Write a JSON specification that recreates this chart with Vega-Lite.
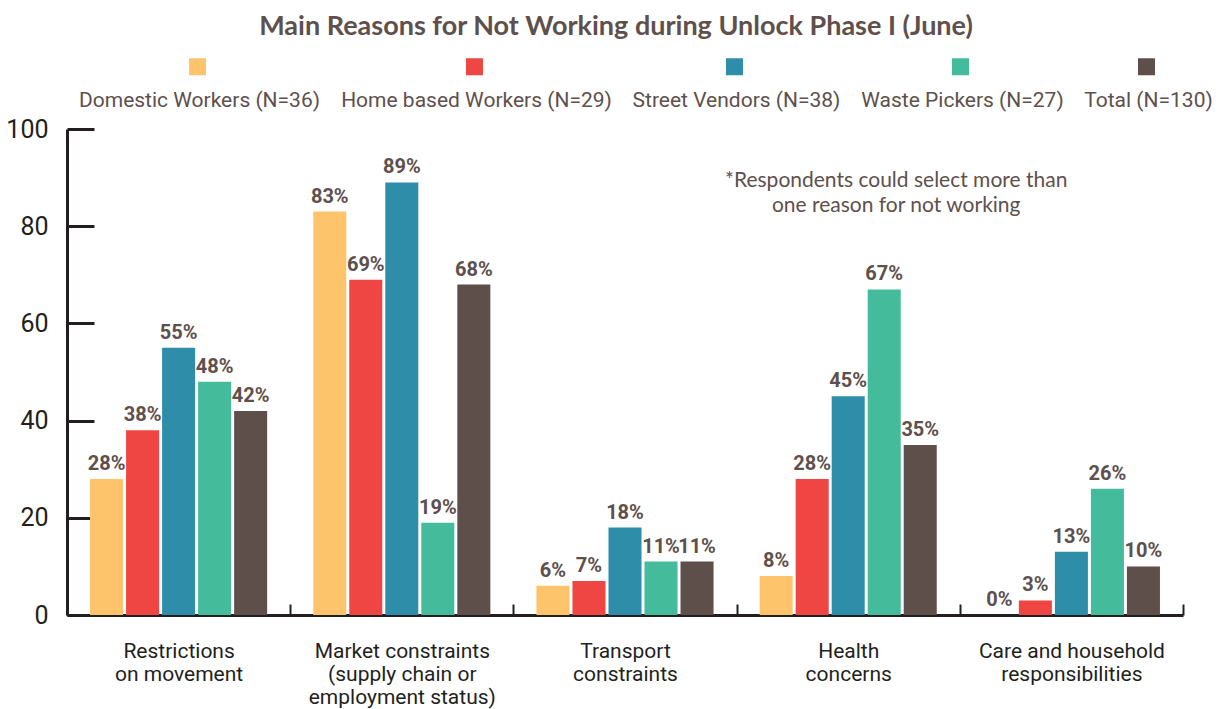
{
  "$schema": "https://vega.github.io/schema/vega-lite/v6.json",
  "width": 1116,
  "height": 486,
  "autosize": "none",
  "padding": {"left": 67, "top": 129, "right": 39, "bottom": 94},
  "background": "white",
  "title": {
    "text": "Main Reasons for Not Working during Unlock Phase I (June)",
    "font": "Lato",
    "fontSize": 27,
    "fontWeight": "bold",
    "color": "#5e504c",
    "anchor": "middle",
    "frame": "group",
    "dx": -9,
    "offset": 15
  },
  "data": {
    "values": [
      {"category": "Restrictions|on movement", "group": "Domestic Workers (N=36)", "value": 28, "label": "28%"},
      {"category": "Restrictions|on movement", "group": "Home based Workers (N=29)", "value": 38, "label": "38%"},
      {"category": "Restrictions|on movement", "group": "Street Vendors (N=38)", "value": 55, "label": "55%"},
      {"category": "Restrictions|on movement", "group": "Waste Pickers (N=27)", "value": 48, "label": "48%"},
      {"category": "Restrictions|on movement", "group": "Total (N=130)", "value": 42, "label": "42%"},
      {"category": "Market constraints|(supply chain or|employment status)", "group": "Domestic Workers (N=36)", "value": 83, "label": "83%"},
      {"category": "Market constraints|(supply chain or|employment status)", "group": "Home based Workers (N=29)", "value": 69, "label": "69%"},
      {"category": "Market constraints|(supply chain or|employment status)", "group": "Street Vendors (N=38)", "value": 89, "label": "89%"},
      {"category": "Market constraints|(supply chain or|employment status)", "group": "Waste Pickers (N=27)", "value": 19, "label": "19%"},
      {"category": "Market constraints|(supply chain or|employment status)", "group": "Total (N=130)", "value": 68, "label": "68%"},
      {"category": "Transport|constraints", "group": "Domestic Workers (N=36)", "value": 6, "label": "6%"},
      {"category": "Transport|constraints", "group": "Home based Workers (N=29)", "value": 7, "label": "7%"},
      {"category": "Transport|constraints", "group": "Street Vendors (N=38)", "value": 18, "label": "18%"},
      {"category": "Transport|constraints", "group": "Waste Pickers (N=27)", "value": 11, "label": "11%"},
      {"category": "Transport|constraints", "group": "Total (N=130)", "value": 11, "label": "11%"},
      {"category": "Health|concerns", "group": "Domestic Workers (N=36)", "value": 8, "label": "8%"},
      {"category": "Health|concerns", "group": "Home based Workers (N=29)", "value": 28, "label": "28%"},
      {"category": "Health|concerns", "group": "Street Vendors (N=38)", "value": 45, "label": "45%"},
      {"category": "Health|concerns", "group": "Waste Pickers (N=27)", "value": 67, "label": "67%"},
      {"category": "Health|concerns", "group": "Total (N=130)", "value": 35, "label": "35%"},
      {"category": "Care and household|responsibilities", "group": "Domestic Workers (N=36)", "value": 0, "label": "0%"},
      {"category": "Care and household|responsibilities", "group": "Home based Workers (N=29)", "value": 3, "label": "3%"},
      {"category": "Care and household|responsibilities", "group": "Street Vendors (N=38)", "value": 13, "label": "13%"},
      {"category": "Care and household|responsibilities", "group": "Waste Pickers (N=27)", "value": 26, "label": "26%"},
      {"category": "Care and household|responsibilities", "group": "Total (N=130)", "value": 10, "label": "10%"}
    ]
  },
  "config": {
    "view": {"stroke": null},
    "axis": {
      "title": null,
      "grid": false,
      "domainColor": "#231f20",
      "domainWidth": 3,
      "tickColor": "#231f20",
      "labelColor": "#231f20"
    }
  },
  "layer": [
    {
      "mark": {"type": "bar"},
      "encoding": {
        "x": {
          "field": "category",
          "type": "nominal",
          "sort": ["Restrictions|on movement", "Market constraints|(supply chain or|employment status)", "Transport|constraints", "Health|concerns", "Care and household|responsibilities"],
          "scale": {"paddingInner": 0, "paddingOuter": 0},
          "axis": {
            "tickBand": "extent",
            "tickSize": -11,
            "tickWidth": 2,
            "labelPadding": 36,
            "labelAngle": 0,
            "labelAlign": "center",
            "labelBaseline": "top",
            "labelFont": "Roboto",
            "labelFontSize": 21,
            "labelLineHeight": 23,
            "labelLimit": 400,
            "labelExpr": "split(datum.label, '|')"
          }
        },
        "xOffset": {
          "field": "group",
          "type": "nominal",
          "sort": ["Domestic Workers (N=36)", "Home based Workers (N=29)", "Street Vendors (N=38)", "Waste Pickers (N=27)", "Total (N=130)"],
          "scale": {"paddingInner": 0.083, "paddingOuter": 0.64}
        },
        "y": {
          "field": "value",
          "type": "quantitative",
          "scale": {"domain": [0, 100], "nice": false},
          "axis": {
            "values": [0, 20, 40, 60, 80, 100],
            "tickSize": -27,
            "tickWidth": 3,
            "labelPadding": 46,
            "labelFont": "Roboto",
            "labelFontSize": 25
          }
        },
        "color": {
          "field": "group",
          "type": "nominal",
          "scale": {
            "domain": ["Domestic Workers (N=36)", "Home based Workers (N=29)", "Street Vendors (N=38)", "Waste Pickers (N=27)", "Total (N=130)"],
            "range": ["#fec46b", "#ef4543", "#2e8da8", "#44bc9b", "#5e4f4b"]
          },
          "legend": {
            "orient": "none",
            "legendX": 120,
            "legendY": -73,
            "direction": "horizontal",
            "title": null,
            "padding": 0,
            "symbolType": "square",
            "symbolSize": 289,
            "symbolStrokeWidth": 0,
            "symbolOpacity": 1,
            "labelAlign": "center",
            "labelOffset": -8.5,
            "labelBaseline": "top",
            "labelExpr": "['', datum.label]",
            "labelFont": "Roboto",
            "labelFontSize": 21,
            "labelColor": "#5e504c",
            "labelLimit": 400,
            "columnPadding": 20
          }
        }
      }
    },
    {
      "mark": {"type": "text", "baseline": "alphabetic", "dy": -9, "font": "Roboto", "fontWeight": "bold", "fontSize": 20, "color": "#5e504c"},
      "encoding": {
        "x": {"field": "category", "type": "nominal", "sort": ["Restrictions|on movement", "Market constraints|(supply chain or|employment status)", "Transport|constraints", "Health|concerns", "Care and household|responsibilities"]},
        "xOffset": {"field": "group", "type": "nominal", "sort": ["Domestic Workers (N=36)", "Home based Workers (N=29)", "Street Vendors (N=38)", "Waste Pickers (N=27)", "Total (N=130)"]},
        "y": {"field": "value", "type": "quantitative"},
        "text": {"field": "label"}
      }
    },
    {
      "data": {"values": [{"note": "*Respondents could select more than\none reason for not working", "category": "Health|concerns", "level": 89.4}]},
      "mark": {"type": "text", "font": "Lato", "fontSize": 21, "color": "#5e504c", "align": "center", "baseline": "middle", "lineBreak": "\n", "lineHeight": 25, "dx": 48},
      "encoding": {
        "x": {"field": "category", "type": "nominal", "sort": ["Restrictions|on movement", "Market constraints|(supply chain or|employment status)", "Transport|constraints", "Health|concerns", "Care and household|responsibilities"]},
        "y": {"field": "level", "type": "quantitative"},
        "text": {"field": "note"}
      }
    }
  ]
}
